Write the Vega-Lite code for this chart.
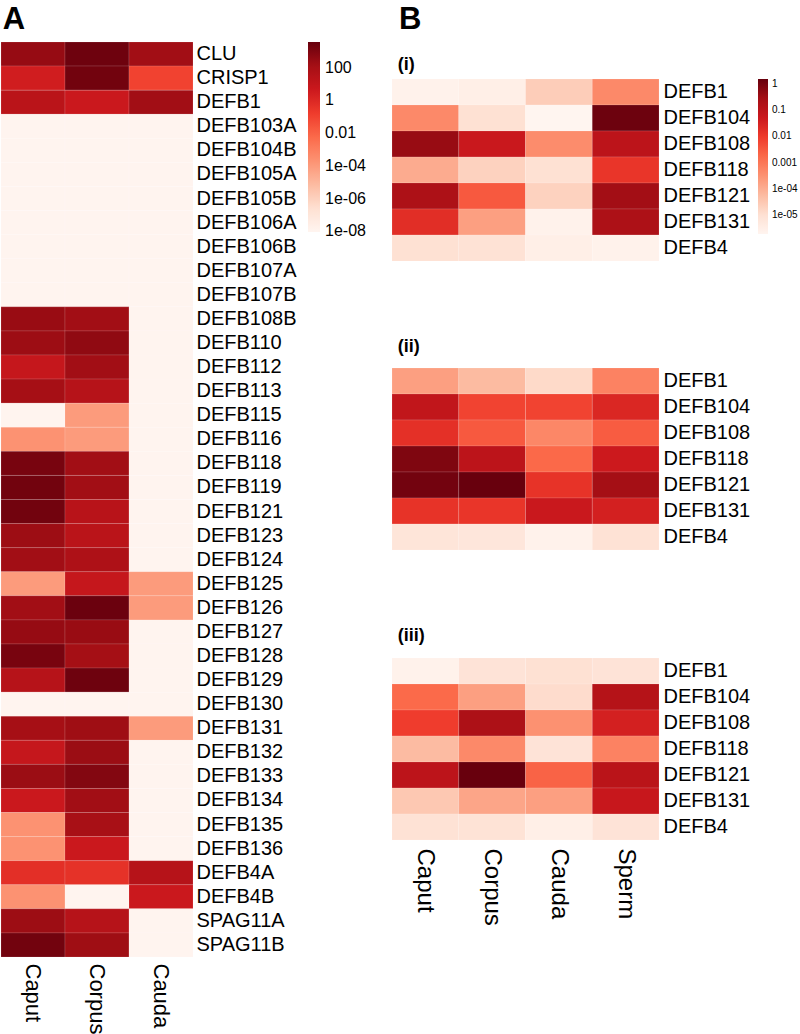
{
  "$schema": "https://vega.github.io/schema/vega-lite/v6.json",
  "padding": {"left": 0, "top": 3, "right": 0, "bottom": 0},
  "background": "#ffffff",
  "config": {
    "font": "Liberation Sans",
    "view": {"stroke": null},
    "axis": {"labelColor": "#000000", "labelFont": "Liberation Sans"},
    "legend": {"labelColor": "#000000", "labelFont": "Liberation Sans"},
    "title": {"color": "#000000", "font": "Liberation Sans"}
  },
  "datasets": {
    "A": [
      {"gene": "CLU", "tissue": "Caput", "value": 300}, {"gene": "CLU", "tissue": "Corpus", "value": 2500}, {"gene": "CLU", "tissue": "Cauda", "value": 150},
      {"gene": "CRISP1", "tissue": "Caput", "value": 3}, {"gene": "CRISP1", "tissue": "Corpus", "value": 2000}, {"gene": "CRISP1", "tissue": "Cauda", "value": 0.1},
      {"gene": "DEFB1", "tissue": "Caput", "value": 20}, {"gene": "DEFB1", "tissue": "Corpus", "value": 5}, {"gene": "DEFB1", "tissue": "Cauda", "value": 150},
      {"gene": "DEFB103A", "tissue": "Caput", "value": 1e-8}, {"gene": "DEFB103A", "tissue": "Corpus", "value": 1e-8}, {"gene": "DEFB103A", "tissue": "Cauda", "value": 1e-8},
      {"gene": "DEFB104B", "tissue": "Caput", "value": 1e-8}, {"gene": "DEFB104B", "tissue": "Corpus", "value": 1e-8}, {"gene": "DEFB104B", "tissue": "Cauda", "value": 1e-8},
      {"gene": "DEFB105A", "tissue": "Caput", "value": 1e-8}, {"gene": "DEFB105A", "tissue": "Corpus", "value": 1e-8}, {"gene": "DEFB105A", "tissue": "Cauda", "value": 1e-8},
      {"gene": "DEFB105B", "tissue": "Caput", "value": 1e-8}, {"gene": "DEFB105B", "tissue": "Corpus", "value": 1e-8}, {"gene": "DEFB105B", "tissue": "Cauda", "value": 1e-8},
      {"gene": "DEFB106A", "tissue": "Caput", "value": 1e-8}, {"gene": "DEFB106A", "tissue": "Corpus", "value": 1e-8}, {"gene": "DEFB106A", "tissue": "Cauda", "value": 1e-8},
      {"gene": "DEFB106B", "tissue": "Caput", "value": 1e-8}, {"gene": "DEFB106B", "tissue": "Corpus", "value": 1e-8}, {"gene": "DEFB106B", "tissue": "Cauda", "value": 1e-8},
      {"gene": "DEFB107A", "tissue": "Caput", "value": 1e-8}, {"gene": "DEFB107A", "tissue": "Corpus", "value": 1e-8}, {"gene": "DEFB107A", "tissue": "Cauda", "value": 1e-8},
      {"gene": "DEFB107B", "tissue": "Caput", "value": 1e-8}, {"gene": "DEFB107B", "tissue": "Corpus", "value": 1e-8}, {"gene": "DEFB107B", "tissue": "Cauda", "value": 1e-8},
      {"gene": "DEFB108B", "tissue": "Caput", "value": 250}, {"gene": "DEFB108B", "tissue": "Corpus", "value": 150}, {"gene": "DEFB108B", "tissue": "Cauda", "value": 1e-8},
      {"gene": "DEFB110", "tissue": "Caput", "value": 200}, {"gene": "DEFB110", "tissue": "Corpus", "value": 400}, {"gene": "DEFB110", "tissue": "Cauda", "value": 1e-8},
      {"gene": "DEFB112", "tissue": "Caput", "value": 8}, {"gene": "DEFB112", "tissue": "Corpus", "value": 150}, {"gene": "DEFB112", "tissue": "Cauda", "value": 1e-8},
      {"gene": "DEFB113", "tissue": "Caput", "value": 120}, {"gene": "DEFB113", "tissue": "Corpus", "value": 30}, {"gene": "DEFB113", "tissue": "Cauda", "value": 1e-8},
      {"gene": "DEFB115", "tissue": "Caput", "value": 1e-8}, {"gene": "DEFB115", "tissue": "Corpus", "value": 1e-4}, {"gene": "DEFB115", "tissue": "Cauda", "value": 1e-8},
      {"gene": "DEFB116", "tissue": "Caput", "value": 2e-4}, {"gene": "DEFB116", "tissue": "Corpus", "value": 1e-4}, {"gene": "DEFB116", "tissue": "Cauda", "value": 1e-8},
      {"gene": "DEFB118", "tissue": "Caput", "value": 1500}, {"gene": "DEFB118", "tissue": "Corpus", "value": 150}, {"gene": "DEFB118", "tissue": "Cauda", "value": 1e-8},
      {"gene": "DEFB119", "tissue": "Caput", "value": 2000}, {"gene": "DEFB119", "tissue": "Corpus", "value": 150}, {"gene": "DEFB119", "tissue": "Cauda", "value": 1e-8},
      {"gene": "DEFB121", "tissue": "Caput", "value": 2000}, {"gene": "DEFB121", "tissue": "Corpus", "value": 25}, {"gene": "DEFB121", "tissue": "Cauda", "value": 1e-8},
      {"gene": "DEFB123", "tissue": "Caput", "value": 200}, {"gene": "DEFB123", "tissue": "Corpus", "value": 20}, {"gene": "DEFB123", "tissue": "Cauda", "value": 1e-8},
      {"gene": "DEFB124", "tissue": "Caput", "value": 150}, {"gene": "DEFB124", "tissue": "Corpus", "value": 60}, {"gene": "DEFB124", "tissue": "Cauda", "value": 1e-8},
      {"gene": "DEFB125", "tissue": "Caput", "value": 1e-4}, {"gene": "DEFB125", "tissue": "Corpus", "value": 8}, {"gene": "DEFB125", "tissue": "Cauda", "value": 1e-4},
      {"gene": "DEFB126", "tissue": "Caput", "value": 150}, {"gene": "DEFB126", "tissue": "Corpus", "value": 3000}, {"gene": "DEFB126", "tissue": "Cauda", "value": 1e-4},
      {"gene": "DEFB127", "tissue": "Caput", "value": 300}, {"gene": "DEFB127", "tissue": "Corpus", "value": 250}, {"gene": "DEFB127", "tissue": "Cauda", "value": 1e-8},
      {"gene": "DEFB128", "tissue": "Caput", "value": 1500}, {"gene": "DEFB128", "tissue": "Corpus", "value": 130}, {"gene": "DEFB128", "tissue": "Cauda", "value": 1e-8},
      {"gene": "DEFB129", "tissue": "Caput", "value": 30}, {"gene": "DEFB129", "tissue": "Corpus", "value": 2500}, {"gene": "DEFB129", "tissue": "Cauda", "value": 1e-8},
      {"gene": "DEFB130", "tissue": "Caput", "value": 1e-8}, {"gene": "DEFB130", "tissue": "Corpus", "value": 1e-8}, {"gene": "DEFB130", "tissue": "Cauda", "value": 1e-8},
      {"gene": "DEFB131", "tissue": "Caput", "value": 120}, {"gene": "DEFB131", "tissue": "Corpus", "value": 180}, {"gene": "DEFB131", "tissue": "Cauda", "value": 1e-4},
      {"gene": "DEFB132", "tissue": "Caput", "value": 8}, {"gene": "DEFB132", "tissue": "Corpus", "value": 220}, {"gene": "DEFB132", "tissue": "Cauda", "value": 1e-8},
      {"gene": "DEFB133", "tissue": "Caput", "value": 220}, {"gene": "DEFB133", "tissue": "Corpus", "value": 800}, {"gene": "DEFB133", "tissue": "Cauda", "value": 1e-8},
      {"gene": "DEFB134", "tissue": "Caput", "value": 5}, {"gene": "DEFB134", "tissue": "Corpus", "value": 150}, {"gene": "DEFB134", "tissue": "Cauda", "value": 1e-8},
      {"gene": "DEFB135", "tissue": "Caput", "value": 2e-4}, {"gene": "DEFB135", "tissue": "Corpus", "value": 100}, {"gene": "DEFB135", "tissue": "Cauda", "value": 1e-8},
      {"gene": "DEFB136", "tissue": "Caput", "value": 2e-4}, {"gene": "DEFB136", "tissue": "Corpus", "value": 5}, {"gene": "DEFB136", "tissue": "Cauda", "value": 1e-8},
      {"gene": "DEFB4A", "tissue": "Caput", "value": 0.5}, {"gene": "DEFB4A", "tissue": "Corpus", "value": 0.4}, {"gene": "DEFB4A", "tissue": "Cauda", "value": 30},
      {"gene": "DEFB4B", "tissue": "Caput", "value": 2e-4}, {"gene": "DEFB4B", "tissue": "Corpus", "value": 1e-8}, {"gene": "DEFB4B", "tissue": "Cauda", "value": 5},
      {"gene": "SPAG11A", "tissue": "Caput", "value": 200}, {"gene": "SPAG11A", "tissue": "Corpus", "value": 30}, {"gene": "SPAG11A", "tissue": "Cauda", "value": 1e-8},
      {"gene": "SPAG11B", "tissue": "Caput", "value": 2000}, {"gene": "SPAG11B", "tissue": "Corpus", "value": 180}, {"gene": "SPAG11B", "tissue": "Cauda", "value": 1e-8}
    ],
    "B": [
      {"panel": "i", "gene": "DEFB1", "tissue": "Caput", "value": 2.5e-6}, {"panel": "i", "gene": "DEFB1", "tissue": "Corpus", "value": 3.2e-6}, {"panel": "i", "gene": "DEFB1", "tissue": "Cauda", "value": 2.5e-5}, {"panel": "i", "gene": "DEFB1", "tissue": "Sperm", "value": 4.5e-4},
      {"panel": "i", "gene": "DEFB104", "tissue": "Caput", "value": 4.5e-4}, {"panel": "i", "gene": "DEFB104", "tissue": "Corpus", "value": 1e-5}, {"panel": "i", "gene": "DEFB104", "tissue": "Cauda", "value": 1.9e-6}, {"panel": "i", "gene": "DEFB104", "tissue": "Sperm", "value": 1.3},
      {"panel": "i", "gene": "DEFB108", "tissue": "Caput", "value": 0.4}, {"panel": "i", "gene": "DEFB108", "tissue": "Corpus", "value": 0.056}, {"panel": "i", "gene": "DEFB108", "tissue": "Cauda", "value": 4e-4}, {"panel": "i", "gene": "DEFB108", "tissue": "Sperm", "value": 0.1},
      {"panel": "i", "gene": "DEFB118", "tissue": "Caput", "value": 1.1e-4}, {"panel": "i", "gene": "DEFB118", "tissue": "Corpus", "value": 2e-5}, {"panel": "i", "gene": "DEFB118", "tissue": "Cauda", "value": 1e-5}, {"panel": "i", "gene": "DEFB118", "tissue": "Sperm", "value": 0.0126},
      {"panel": "i", "gene": "DEFB121", "tissue": "Caput", "value": 0.2}, {"panel": "i", "gene": "DEFB121", "tissue": "Corpus", "value": 0.0032}, {"panel": "i", "gene": "DEFB121", "tissue": "Cauda", "value": 2e-5}, {"panel": "i", "gene": "DEFB121", "tissue": "Sperm", "value": 0.3},
      {"panel": "i", "gene": "DEFB131", "tissue": "Caput", "value": 0.018}, {"panel": "i", "gene": "DEFB131", "tissue": "Corpus", "value": 1.8e-4}, {"panel": "i", "gene": "DEFB131", "tissue": "Cauda", "value": 2.5e-6}, {"panel": "i", "gene": "DEFB131", "tissue": "Sperm", "value": 0.2},
      {"panel": "i", "gene": "DEFB4", "tissue": "Caput", "value": 1e-5}, {"panel": "i", "gene": "DEFB4", "tissue": "Corpus", "value": 9e-6}, {"panel": "i", "gene": "DEFB4", "tissue": "Cauda", "value": 3.2e-6}, {"panel": "i", "gene": "DEFB4", "tissue": "Sperm", "value": 2.5e-6},
      {"panel": "ii", "gene": "DEFB1", "tissue": "Caput", "value": 1.8e-4}, {"panel": "ii", "gene": "DEFB1", "tissue": "Corpus", "value": 5.8e-5}, {"panel": "ii", "gene": "DEFB1", "tissue": "Cauda", "value": 1.4e-5}, {"panel": "ii", "gene": "DEFB1", "tissue": "Sperm", "value": 6.3e-4},
      {"panel": "ii", "gene": "DEFB104", "tissue": "Caput", "value": 0.08}, {"panel": "ii", "gene": "DEFB104", "tissue": "Corpus", "value": 0.007}, {"panel": "ii", "gene": "DEFB104", "tissue": "Cauda", "value": 0.007}, {"panel": "ii", "gene": "DEFB104", "tissue": "Sperm", "value": 0.025},
      {"panel": "ii", "gene": "DEFB108", "tissue": "Caput", "value": 0.016}, {"panel": "ii", "gene": "DEFB108", "tissue": "Corpus", "value": 0.0032}, {"panel": "ii", "gene": "DEFB108", "tissue": "Cauda", "value": 5e-4}, {"panel": "ii", "gene": "DEFB108", "tissue": "Sperm", "value": 0.0028},
      {"panel": "ii", "gene": "DEFB118", "tissue": "Caput", "value": 0.8}, {"panel": "ii", "gene": "DEFB118", "tissue": "Corpus", "value": 0.1}, {"panel": "ii", "gene": "DEFB118", "tissue": "Cauda", "value": 0.0018}, {"panel": "ii", "gene": "DEFB118", "tissue": "Sperm", "value": 0.05},
      {"panel": "ii", "gene": "DEFB121", "tissue": "Caput", "value": 1.1}, {"panel": "ii", "gene": "DEFB121", "tissue": "Corpus", "value": 1.5}, {"panel": "ii", "gene": "DEFB121", "tissue": "Cauda", "value": 0.014}, {"panel": "ii", "gene": "DEFB121", "tissue": "Sperm", "value": 0.28},
      {"panel": "ii", "gene": "DEFB131", "tissue": "Caput", "value": 0.014}, {"panel": "ii", "gene": "DEFB131", "tissue": "Corpus", "value": 0.0126}, {"panel": "ii", "gene": "DEFB131", "tissue": "Cauda", "value": 0.056}, {"panel": "ii", "gene": "DEFB131", "tissue": "Sperm", "value": 0.035},
      {"panel": "ii", "gene": "DEFB4", "tissue": "Caput", "value": 7e-6}, {"panel": "ii", "gene": "DEFB4", "tissue": "Corpus", "value": 6.3e-6}, {"panel": "ii", "gene": "DEFB4", "tissue": "Cauda", "value": 2.5e-6}, {"panel": "ii", "gene": "DEFB4", "tissue": "Sperm", "value": 9e-6},
      {"panel": "iii", "gene": "DEFB1", "tissue": "Caput", "value": 2.5e-6}, {"panel": "iii", "gene": "DEFB1", "tissue": "Corpus", "value": 8e-6}, {"panel": "iii", "gene": "DEFB1", "tissue": "Cauda", "value": 1e-5}, {"panel": "iii", "gene": "DEFB1", "tissue": "Sperm", "value": 8e-6},
      {"panel": "iii", "gene": "DEFB104", "tissue": "Caput", "value": 0.0017}, {"panel": "iii", "gene": "DEFB104", "tissue": "Corpus", "value": 1.8e-4}, {"panel": "iii", "gene": "DEFB104", "tissue": "Cauda", "value": 1.26e-5}, {"panel": "iii", "gene": "DEFB104", "tissue": "Sperm", "value": 0.14},
      {"panel": "iii", "gene": "DEFB108", "tissue": "Caput", "value": 0.009}, {"panel": "iii", "gene": "DEFB108", "tissue": "Corpus", "value": 0.2}, {"panel": "iii", "gene": "DEFB108", "tissue": "Cauda", "value": 3.2e-4}, {"panel": "iii", "gene": "DEFB108", "tissue": "Sperm", "value": 0.035},
      {"panel": "iii", "gene": "DEFB118", "tissue": "Caput", "value": 5.6e-5}, {"panel": "iii", "gene": "DEFB118", "tissue": "Corpus", "value": 4.5e-4}, {"panel": "iii", "gene": "DEFB118", "tissue": "Cauda", "value": 8e-6}, {"panel": "iii", "gene": "DEFB118", "tissue": "Sperm", "value": 6.3e-4},
      {"panel": "iii", "gene": "DEFB121", "tissue": "Caput", "value": 0.1}, {"panel": "iii", "gene": "DEFB121", "tissue": "Corpus", "value": 1.5}, {"panel": "iii", "gene": "DEFB121", "tissue": "Cauda", "value": 0.0022}, {"panel": "iii", "gene": "DEFB121", "tissue": "Sperm", "value": 0.11},
      {"panel": "iii", "gene": "DEFB131", "tissue": "Caput", "value": 3.2e-5}, {"panel": "iii", "gene": "DEFB131", "tissue": "Corpus", "value": 1.4e-4}, {"panel": "iii", "gene": "DEFB131", "tissue": "Cauda", "value": 1.8e-4}, {"panel": "iii", "gene": "DEFB131", "tissue": "Sperm", "value": 0.063},
      {"panel": "iii", "gene": "DEFB4", "tissue": "Caput", "value": 9e-6}, {"panel": "iii", "gene": "DEFB4", "tissue": "Corpus", "value": 8.3e-6}, {"panel": "iii", "gene": "DEFB4", "tissue": "Cauda", "value": 3.2e-6}, {"panel": "iii", "gene": "DEFB4", "tissue": "Sperm", "value": 8e-6}
    ]
  },
  "hconcat": [
    {
      "title": {"text": "A", "fontSize": 31, "fontWeight": "bold", "anchor": "start", "dx": 2, "offset": 6},
      "width": 192,
      "height": 915,
      "data": {"name": "A"},
      "mark": {"type": "rect", "stroke": "#ffffff", "strokeWidth": 0.5, "strokeOpacity": 0.25},
      "encoding": {
        "x": {"field": "tissue", "type": "nominal", "sort": ["Caput", "Corpus", "Cauda"],
              "scale": {"paddingInner": 0, "paddingOuter": 0},
              "axis": {"orient": "bottom", "title": null, "labelAngle": 90, "labelFontSize": 22, "ticks": false, "domain": false, "labelPadding": 6}},
        "y": {"field": "gene", "type": "nominal", "sort": null,
              "scale": {"paddingInner": 0, "paddingOuter": 0},
              "axis": {"orient": "right", "title": null, "labelFontSize": 20, "ticks": false, "domain": false, "labelPadding": 3, "labelLimit": 300}},
        "color": {"field": "value", "type": "quantitative",
                  "scale": {"type": "log", "interpolate": "rgb",
                            "domain": [9e-9, 2.547e-7, 7.206e-6, 2.039e-4, 5.770e-3, 0.1633, 4.620, 130.8, 3700],
                            "range": ["#fff5f0", "#fee0d2", "#fcbba1", "#fc9272", "#fb6a4a", "#ef3b2c", "#cb181d", "#a50f15", "#67000d"]},
                  "legend": {"title": null, "orient": "none", "legendX": 307, "legendY": 0, "direction": "vertical",
                             "gradientLength": 190, "gradientThickness": 12, "gradientStrokeWidth": 0,
                             "values": [1e-8, 1e-6, 1e-4, 0.01, 1, 100], "labelOverlap": false,
                             "labelFontSize": 16, "labelOffset": 5,
                             "labelExpr": "datum.value >= 0.001 ? toString(datum.value) : '1e-0' + toString(-round(log(datum.value)/LN10))"}}
      }
    },
    {
      "spacing": 12,
      "vconcat": [
        {
          "title": {"text": "B", "fontSize": 31, "fontWeight": "bold", "anchor": "start", "dx": 7, "offset": 6},
          "width": 267,
          "height": 1,
          "data": {"values": []},
          "mark": {"type": "rect", "opacity": 0},
          "encoding": {}
        },
        {
          "spacing": 75,
          "resolve": {"scale": {"color": "independent"}},
          "vconcat": [
            {
              "title": {"text": "(i)", "fontSize": 18, "fontWeight": "bold", "anchor": "start", "dx": 6, "offset": 5},
              "width": 267, "height": 182,
              "data": {"name": "B"},
              "transform": [{"filter": "datum.panel == 'i'"}],
              "mark": {"type": "rect", "stroke": "#ffffff", "strokeWidth": 0.5, "strokeOpacity": 0.25},
              "encoding": {
                "x": {"field": "tissue", "type": "nominal", "sort": ["Caput", "Corpus", "Cauda", "Sperm"], "scale": {"paddingInner": 0, "paddingOuter": 0}, "axis": null},
                "y": {"field": "gene", "type": "nominal", "sort": null, "scale": {"paddingInner": 0, "paddingOuter": 0},
                      "axis": {"orient": "right", "title": null, "labelFontSize": 20, "ticks": false, "domain": false, "labelPadding": 4}},
                "color": {"field": "value", "type": "quantitative",
                          "scale": {"type": "log", "interpolate": "rgb",
                                    "domain": [1.9e-6, 1.0416e-5, 5.709e-5, 3.1296e-4, 1.7157e-3, 9.408e-3, 0.05159, 0.2828, 1.55],
                                    "range": ["#fff5f0", "#fee0d2", "#fcbba1", "#fc9272", "#fb6a4a", "#ef3b2c", "#cb181d", "#a50f15", "#67000d"]},
                          "legend": {"title": null, "orient": "none", "legendX": 366, "legendY": 0, "direction": "vertical",
                                     "gradientLength": 155, "gradientThickness": 10, "gradientStrokeWidth": 0,
                                     "values": [1e-5, 1e-4, 0.001, 0.01, 0.1, 1], "labelOverlap": false,
                                     "labelFontSize": 10, "labelOffset": 4,
                                     "labelExpr": "datum.value >= 0.001 ? toString(datum.value) : '1e-0' + toString(-round(log(datum.value)/LN10))"}}
              }
            },
            {
              "title": {"text": "(ii)", "fontSize": 18, "fontWeight": "bold", "anchor": "start", "dx": 6, "offset": 12},
              "width": 267, "height": 182,
              "data": {"name": "B"},
              "transform": [{"filter": "datum.panel == 'ii'"}],
              "mark": {"type": "rect", "stroke": "#ffffff", "strokeWidth": 0.5, "strokeOpacity": 0.25},
              "encoding": {
                "x": {"field": "tissue", "type": "nominal", "sort": ["Caput", "Corpus", "Cauda", "Sperm"], "scale": {"paddingInner": 0, "paddingOuter": 0}, "axis": null},
                "y": {"field": "gene", "type": "nominal", "sort": null, "scale": {"paddingInner": 0, "paddingOuter": 0},
                      "axis": {"orient": "right", "title": null, "labelFontSize": 20, "ticks": false, "domain": false, "labelPadding": 4}},
                "color": {"field": "value", "type": "quantitative",
                          "scale": {"type": "log", "interpolate": "rgb",
                                    "domain": [1.9e-6, 1.0416e-5, 5.709e-5, 3.1296e-4, 1.7157e-3, 9.408e-3, 0.05159, 0.2828, 1.55],
                                    "range": ["#fff5f0", "#fee0d2", "#fcbba1", "#fc9272", "#fb6a4a", "#ef3b2c", "#cb181d", "#a50f15", "#67000d"]},
                          "legend": null}
              }
            },
            {
              "title": {"text": "(iii)", "fontSize": 18, "fontWeight": "bold", "anchor": "start", "dx": 6, "offset": 13},
              "width": 267, "height": 182,
              "data": {"name": "B"},
              "transform": [{"filter": "datum.panel == 'iii'"}],
              "mark": {"type": "rect", "stroke": "#ffffff", "strokeWidth": 0.5, "strokeOpacity": 0.25},
              "encoding": {
                "x": {"field": "tissue", "type": "nominal", "sort": ["Caput", "Corpus", "Cauda", "Sperm"], "scale": {"paddingInner": 0, "paddingOuter": 0},
                      "axis": {"orient": "bottom", "title": null, "labelAngle": 90, "labelFontSize": 24, "ticks": false, "domain": false, "labelPadding": 8}},
                "y": {"field": "gene", "type": "nominal", "sort": null, "scale": {"paddingInner": 0, "paddingOuter": 0},
                      "axis": {"orient": "right", "title": null, "labelFontSize": 20, "ticks": false, "domain": false, "labelPadding": 4}},
                "color": {"field": "value", "type": "quantitative",
                          "scale": {"type": "log", "interpolate": "rgb",
                                    "domain": [1.9e-6, 1.0416e-5, 5.709e-5, 3.1296e-4, 1.7157e-3, 9.408e-3, 0.05159, 0.2828, 1.55],
                                    "range": ["#fff5f0", "#fee0d2", "#fcbba1", "#fc9272", "#fb6a4a", "#ef3b2c", "#cb181d", "#a50f15", "#67000d"]},
                          "legend": null}
              }
            }
          ]
        }
      ]
    }
  ],
  "spacing": 25,
  "resolve": {"scale": {"color": "independent"}}
}
